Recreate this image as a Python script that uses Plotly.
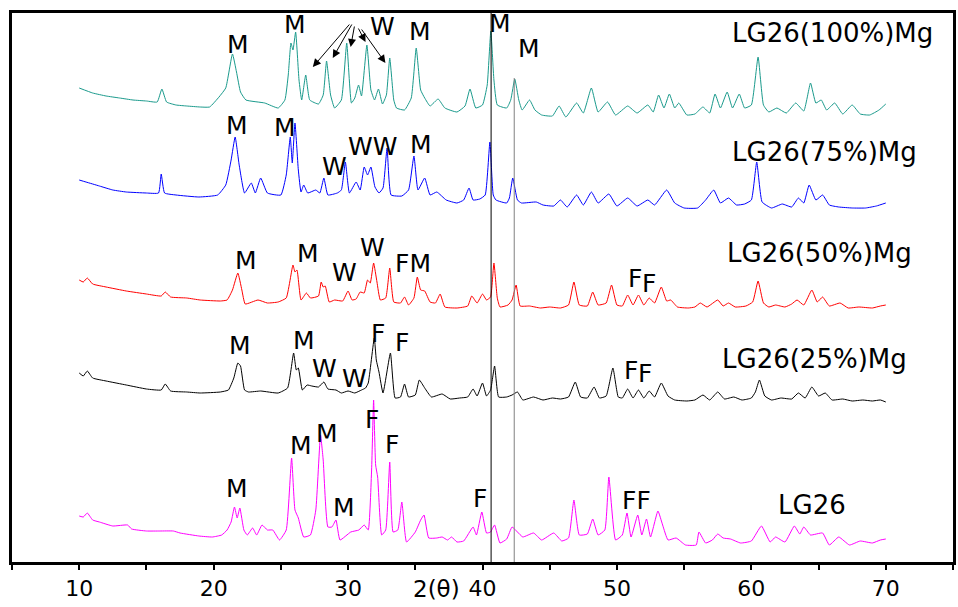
import plotly.graph_objects as go

# XRD patterns, (2theta, intensity a.u.)
lg26_100mg = [
    (10.0, 32), (11.0, 27), (12.0, 24), (13.0, 22), (14.0, 20), (15.0, 19), (15.8, 18),
    (16.15, 31), (16.5, 18), (17.2, 15), (18.0, 14), (19.0, 13), (19.7, 13), (20.4, 23),
    (20.9, 32), (21.4, 66), (21.7, 48), (22.0, 28), (22.4, 20), (23.8, 17), (24.8, 12),
    (25.3, 20), (25.55, 45), (25.75, 77), (25.9, 70), (26.1, 88), (26.35, 40), (26.55, 20),
    (26.85, 45), (27.15, 20), (27.8, 16), (28.15, 25), (28.4, 59), (28.7, 25), (29.0, 12),
    (29.5, 20), (29.9, 77), (30.25, 17), (30.5, 22), (30.78, 35), (31.0, 24), (31.4, 75),
    (31.7, 30), (31.97, 20), (32.26, 31), (32.56, 16), (32.85, 25), (33.1, 62), (33.4, 20),
    (33.6, 12), (34.2, 10), (34.7, 22), (35.07, 72), (35.4, 30), (35.7, 22), (36.1, 14),
    (36.7, 21), (37.2, 12), (38.1, 8), (38.7, 14), (39.07, 31), (39.5, 12), (40.0, 15),
    (40.35, 35), (40.62, 89), (40.85, 40), (41.1, 15), (41.8, 12), (42.1, 20), (42.4, 41),
    (42.7, 20), (42.95, 10), (43.5, 20), (43.9, 10), (44.4, 5), (45.2, 4), (45.7, 14),
    (46.2, 3), (47.0, 17), (47.5, 7), (48.1, 32), (48.6, 8), (49.3, 18), (49.9, 5),
    (50.8, 14), (51.5, 7), (52.3, 15), (52.7, 8), (53.1, 25), (53.5, 12), (53.9, 26),
    (54.3, 12), (54.6, 17), (55.2, 5), (55.8, 6), (56.4, 13), (56.9, 7), (57.3, 26),
    (57.7, 12), (58.2, 28), (58.6, 12), (59.1, 26), (59.5, 12), (60.0, 15), (60.5, 63),
    (60.9, 15), (61.3, 8), (61.9, 12), (62.6, 7), (63.3, 17), (63.9, 9), (64.4, 37),
    (64.8, 17), (65.2, 20), (65.6, 10), (66.2, 17), (66.8, 6), (67.5, 15), (68.1, 6),
    (68.8, 5), (69.5, 10), (70.0, 16),
]

lg26_75mg = [
    (10.0, 30), (10.5, 28), (11.5, 24), (12.5, 20), (13.5, 18), (15.0, 17), (15.9, 17),
    (16.1, 36), (16.35, 17), (17.2, 15), (18.9, 13), (20.3, 15), (20.9, 25), (21.3, 50),
    (21.6, 73), (21.9, 45), (22.3, 17), (22.8, 27), (23.1, 17), (23.5, 32), (24.0, 17),
    (25.0, 15), (25.4, 35), (25.7, 73), (25.85, 47), (26.05, 87), (26.3, 40), (26.5, 18),
    (26.7, 25), (27.0, 17), (27.6, 20), (27.9, 17), (28.2, 32), (28.5, 15), (29.2, 17),
    (29.5, 20), (29.8, 48), (30.1, 17), (30.6, 28), (30.9, 20), (31.2, 43), (31.45, 35),
    (31.7, 43), (32.0, 23), (32.3, 17), (32.6, 22), (32.9, 62), (33.2, 15), (34.0, 14),
    (34.5, 20), (34.9, 54), (35.2, 20), (35.7, 32), (36.1, 15), (36.6, 18), (37.3, 10),
    (38.1, 7), (38.6, 10), (39.0, 22), (39.3, 10), (39.8, 11), (40.2, 15), (40.55, 68),
    (40.8, 15), (41.0, 10), (41.8, 7), (42.0, 12), (42.25, 32), (42.6, 10), (42.9, 7),
    (44.0, 8), (44.5, 5), (45.3, 4), (45.8, 10), (46.3, 3), (47.0, 15), (47.5, 5),
    (48.1, 18), (48.6, 7), (49.4, 16), (50.0, 4), (50.8, 12), (51.5, 4), (52.3, 10),
    (52.8, 5), (53.7, 20), (54.3, 7), (55.0, 2), (56.0, 2), (56.6, 10), (57.2, 20),
    (57.7, 7), (58.3, 12), (58.9, 5), (59.5, 6), (60.0, 10), (60.4, 48), (60.8, 8),
    (61.5, 2), (62.3, 6), (63.0, 3), (63.5, 12), (63.9, 7), (64.3, 25), (64.8, 10),
    (65.3, 15), (65.8, 5), (66.5, 3), (67.5, 2), (68.5, 2), (69.3, 4), (70.0, 7),
]

lg26_50mg = [
    (10.0, 30), (10.3, 28), (10.6, 32), (11.0, 26), (12.0, 23), (13.5, 19), (15.0, 16),
    (16.1, 14), (16.4, 18), (16.8, 13), (18.0, 12), (19.0, 10), (20.5, 9), (21.0, 10),
    (21.4, 20), (21.8, 37), (22.1, 20), (22.35, 6), (23.3, 10), (24.0, 7), (24.8, 8),
    (25.4, 12), (25.9, 45), (26.05, 38), (26.2, 40), (26.5, 10), (26.9, 17), (27.2, 12),
    (27.8, 14), (28.0, 28), (28.15, 23), (28.3, 24), (28.6, 8), (29.0, 10), (29.6, 9),
    (30.0, 19), (30.3, 10), (30.6, 11), (30.9, 18), (31.2, 17), (31.45, 30), (31.65, 27),
    (31.9, 47), (32.15, 28), (32.4, 10), (32.8, 12), (33.1, 42), (33.4, 8), (33.9, 7),
    (34.2, 13), (34.5, 5), (34.9, 12), (35.15, 33), (35.4, 20), (35.7, 19), (36.1, 8),
    (36.5, 7), (36.85, 16), (37.2, 3), (38.1, 2), (38.9, 4), (39.2, 14), (39.6, 7),
    (40.0, 16), (40.3, 10), (40.6, 13), (40.85, 47), (41.1, 12), (41.3, 3), (41.9, 5),
    (42.2, 10), (42.5, 25), (42.8, 4), (43.5, 4), (44.3, 2), (45.0, 3), (45.8, 2),
    (46.4, 5), (46.8, 28), (47.2, 5), (47.8, 4), (48.2, 18), (48.6, 5), (49.2, 7),
    (49.6, 25), (50.0, 5), (50.4, 4), (50.8, 15), (51.2, 5), (51.6, 15), (52.0, 5),
    (52.4, 12), (52.8, 7), (53.3, 23), (53.7, 9), (54.0, 10), (54.5, 3), (55.3, 2),
    (55.8, 3), (56.2, 7), (56.7, 3), (57.5, 10), (57.9, 4), (58.3, 7), (58.8, 3),
    (59.6, 4), (60.1, 8), (60.5, 29), (60.9, 7), (61.3, 3), (61.8, 5), (62.5, 3),
    (63.0, 6), (63.4, 10), (63.9, 5), (64.5, 20), (64.9, 8), (65.3, 13), (65.8, 4),
    (66.6, 7), (67.2, 2), (68.0, 3), (69.0, 2), (69.6, 4), (70.0, 5),
]

lg26_25mg = [
    (10.0, 32), (10.3, 29), (10.6, 34), (11.0, 27), (12.0, 24), (13.5, 20), (15.0, 16),
    (16.1, 15), (16.4, 21), (16.8, 14), (18.0, 13), (19.0, 12), (20.5, 13), (21.1, 15),
    (21.5, 27), (21.8, 42), (22.0, 39), (22.3, 15), (22.6, 13), (23.5, 14), (24.8, 12),
    (25.5, 17), (25.95, 52), (26.15, 35), (26.3, 37), (26.6, 15), (26.95, 20), (27.3, 19),
    (27.8, 18), (28.2, 23), (28.5, 16), (29.1, 15), (29.5, 12), (30.0, 14), (30.5, 12),
    (31.0, 15), (31.3, 17), (31.5, 22), (31.95, 67), (32.1, 45), (32.3, 33), (32.6, 12),
    (33.15, 52), (33.5, 7), (33.9, 8), (34.2, 21), (34.5, 8), (35.0, 10), (35.3, 25),
    (35.7, 17), (36.2, 8), (37.0, 11), (37.6, 6), (38.3, 7), (38.9, 8), (39.3, 16),
    (39.6, 9), (40.0, 22), (40.3, 9), (40.6, 15), (40.9, 39), (41.2, 8), (41.8, 8),
    (42.2, 10), (42.6, 13), (43.0, 5), (43.8, 8), (44.5, 5), (45.2, 7), (45.8, 6),
    (46.4, 8), (46.9, 23), (47.3, 8), (47.8, 7), (48.3, 18), (48.7, 7), (49.2, 9),
    (49.7, 37), (50.1, 8), (50.4, 7), (50.8, 16), (51.2, 7), (51.6, 15), (52.0, 7),
    (52.4, 14), (52.8, 8), (53.3, 22), (53.8, 9), (54.3, 5), (55.2, 4), (55.8, 5),
    (56.4, 10), (56.9, 5), (57.5, 13), (58.0, 6), (58.7, 8), (59.3, 5), (60.0, 7),
    (60.3, 13), (60.6, 25), (61.0, 9), (61.5, 5), (62.2, 7), (63.0, 6), (63.5, 12),
    (64.0, 7), (64.5, 18), (65.0, 9), (65.5, 12), (66.0, 5), (66.8, 6), (67.5, 4),
    (68.3, 5), (69.0, 4), (69.6, 5), (70.0, 3),
]

lg26 = [
    (10.0, 32), (10.3, 31), (10.6, 35), (11.0, 28), (11.5, 26), (12.5, 22), (13.6, 23),
    (13.9, 19), (15.0, 17), (16.0, 17), (17.0, 17), (17.5, 15), (18.9, 12), (19.9, 11),
    (20.6, 13), (21.0, 18), (21.3, 26), (21.55, 41), (21.75, 30), (21.95, 40), (22.25, 18),
    (22.5, 13), (22.9, 20), (23.2, 13), (23.6, 23), (24.0, 18), (24.4, 18), (24.9, 8),
    (25.4, 18), (25.8, 90), (26.05, 38), (26.3, 30), (26.7, 11), (27.2, 13), (27.6, 38),
    (27.95, 113), (28.15, 88), (28.5, 21), (28.8, 21), (29.1, 28), (29.4, 8), (30.2, 16),
    (30.8, 18), (31.2, 23), (31.5, 18), (31.75, 78), (31.9, 148), (32.05, 83), (32.2, 71),
    (32.5, 13), (32.8, 18), (33.1, 86), (33.35, 16), (33.7, 18), (34.0, 46), (34.35, 6),
    (35.0, 16), (35.4, 28), (35.65, 33), (36.0, 10), (36.6, 10), (37.0, 11), (37.4, 8),
    (37.7, 11), (38.1, 6), (38.6, 7), (39.3, 21), (39.55, 13), (39.95, 36), (40.3, 15),
    (40.6, 16), (40.9, 23), (41.3, 5), (41.8, 9), (42.2, 21), (42.6, 16), (43.0, 11),
    (43.8, 15), (44.4, 8), (45.3, 15), (45.9, 7), (46.4, 10), (46.8, 48), (47.2, 13),
    (47.8, 14), (48.2, 29), (48.6, 13), (49.1, 18), (49.4, 71), (49.9, 8), (50.4, 13),
    (50.75, 35), (51.05, 11), (51.55, 33), (51.85, 13), (52.2, 29), (52.5, 11), (53.05, 37),
    (53.4, 23), (53.8, 8), (54.4, 10), (55.1, 3), (55.9, 3), (56.1, 16), (56.6, 5),
    (57.1, 8), (57.5, 14), (57.9, 10), (58.45, 9), (59.2, 5), (60.0, 7), (60.75, 22),
    (61.4, 6), (61.8, 11), (62.5, 6), (63.2, 22), (63.6, 14), (63.9, 21), (64.4, 13),
    (65.3, 15), (65.8, 3), (66.5, 11), (67.3, 3), (68.1, 7), (69.0, 5), (69.6, 8), (70.0, 9),
]

# stacking offsets for each pattern and line colours
series = [
    ("LG26(100%)Mg", lg26_100mg, 442, "#1a9a8c"),
    ("LG26(75%)Mg", lg26_75mg, 352, "#0000ff"),
    ("LG26(50%)Mg", lg26_50mg, 252, "#ff0000"),
    ("LG26(25%)Mg", lg26_25mg, 157, "#000000"),
    ("LG26", lg26, 14, "#ff00ff"),
]

# sample name labels (2theta, stacked height)
name_labels = [
    ("LG26(100%)Mg", 66.07, 529),
    ("LG26(75%)Mg", 65.47, 410),
    ("LG26(50%)Mg", 65.10, 309),
    ("LG26(25%)Mg", 64.66, 203),
    ("LG26", 64.51, 57),
]

# phase markers: M, W, F (2theta, stacked height)
phase_labels = [
    ("M", 21.83, 518), ("M", 26.05, 538), ("W", 32.56, 536), ("M", 35.37, 531),
    ("M", 41.29, 539), ("M", 43.43, 514),
    ("M", 21.76, 437), ("M", 25.31, 435), ("W", 29.01, 396), ("WW", 31.82, 416),
    ("M", 35.44, 418),
    ("M", 22.43, 302), ("M", 27.01, 309), ("W", 29.75, 290), ("W", 31.82, 315),
    ("FM", 34.85, 299), ("F", 51.35, 284), ("F", 52.38, 279),
    ("M", 21.98, 217), ("M", 26.72, 222), ("W", 28.27, 194), ("W", 30.49, 184),
    ("F", 32.19, 229), ("F", 34.04, 220), ("F", 51.05, 192), ("F", 52.09, 189),
    ("M", 21.76, 74), ("M", 26.49, 117), ("M", 28.42, 129), ("M", 29.67, 55),
    ("F", 31.75, 143), ("F", 33.30, 118), ("F", 39.81, 64), ("FF", 51.49, 62),
]

# arrows from the W marker to the W reflections: (tail 2theta, tail y, head 2theta, head y)
w_arrows = [
    (30.19, 539, 27.38, 495),
    (30.34, 539, 28.86, 504),
    (30.49, 537, 30.19, 515),
    (30.71, 535, 31.30, 520),
    (30.93, 534, 32.78, 499),
]

# reference lines: (2theta, top height, colour)
ref_lines = [(40.64, 549, "#000000"), (42.36, 484, "#808080")]

fig = go.Figure()
for name, pts, off, col in series:
    tt = [p[0] for p in pts]
    ii = [p[1] + off for p in pts]
    fig.add_trace(go.Scatter(x=tt, y=ii, mode="lines", name=name,
                             line=dict(color=col, width=1, shape="spline", smoothing=0.4),
                             showlegend=False))

for x0, top, col in ref_lines:
    fig.add_shape(type="line", xref="x", yref="y", x0=x0, x1=x0, y0=0, y1=top,
                  line=dict(color=col, width=1))

text_font = "DejaVu Sans, Liberation Sans, Arial, sans-serif"
anns = []
for txt, x, y in name_labels:
    anns.append(dict(x=x, y=y, xref="x", yref="y", text=txt, showarrow=False,
                     font=dict(family=text_font, size=26, color="black"),
                     xanchor="center", yanchor="middle"))
for txt, x, y in phase_labels:
    anns.append(dict(x=x, y=y, xref="x", yref="y", text=txt, showarrow=False,
                     font=dict(family=text_font, size=25, color="black"),
                     xanchor="center", yanchor="middle"))
for ax, ay, hx, hy in w_arrows:
    anns.append(dict(x=hx, y=hy, ax=ax, ay=ay, xref="x", yref="y", axref="x", ayref="y",
                     text="", showarrow=True, arrowhead=2, arrowsize=1.6,
                     arrowwidth=1, arrowcolor="black"))
anns.append(dict(x=36.6, y=-0.049, xref="x", yref="paper", text="2(θ)", showarrow=False,
                 font=dict(family=text_font, size=23, color="black"),
                 xanchor="center", yanchor="middle"))

fig.update_layout(
    width=958, height=607,
    margin=dict(l=12, r=2, t=13, b=45),
    paper_bgcolor="white", plot_bgcolor="white",
    annotations=anns,
    xaxis=dict(range=[5, 75], tick0=0, dtick=10, ticks="outside", ticklen=5,
               tickwidth=2, tickcolor="black", showline=True, linewidth=2.5,
               linecolor="black", mirror=True, showgrid=False, zeroline=False,
               ticklabelstandoff=0,
               minor=dict(dtick=5, ticks="outside", ticklen=5, tickwidth=2,
                          tickcolor="black", showgrid=False)),
    yaxis=dict(range=[0, 549], showline=True, linewidth=2.5, linecolor="black",
               mirror=True, showgrid=False, zeroline=False, showticklabels=False,
               ticks=""),
)
fig.update_xaxes(tickfont=dict(family="DejaVu Sans", size=22, color="black"))

fig.write_html("out.html")
